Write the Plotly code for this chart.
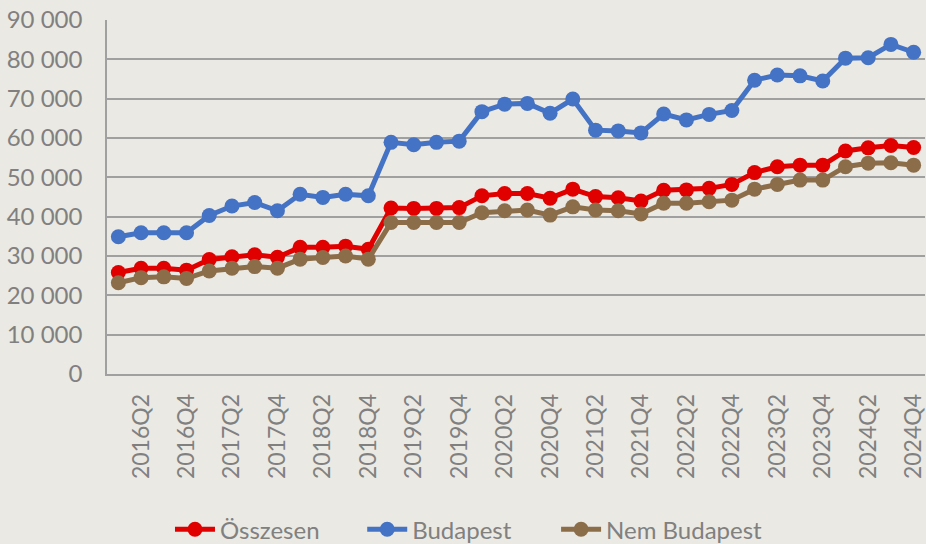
import plotly.graph_objects as go

quarters = [f"{y}Q{q}" for y in range(2016, 2025) for q in range(1, 5)]

osszesen = [25800, 26900, 26900, 26400, 29100, 29800, 30300, 29700, 32200, 32200, 32500, 31700,
            42200, 42100, 42100, 42300, 45300, 45900, 45900, 44700, 47000, 45100, 44800, 44000,
            46700, 46800, 47200, 48200, 51200, 52700, 53100, 53100, 56700, 57500, 58100, 57600]
budapest = [34900, 35900, 35900, 35900, 40300, 42700, 43600, 41500, 45700, 44900, 45700, 45300,
            58900, 58300, 58900, 59200, 66700, 68600, 68800, 66300, 69900, 62000, 61800, 61300,
            66100, 64600, 66000, 67000, 74700, 76000, 75800, 74500, 80300, 80400, 83800, 81800]
nem_budapest = [23200, 24500, 24700, 24300, 26200, 26900, 27300, 26900, 29200, 29600, 30000, 29200,
                38500, 38500, 38500, 38500, 41000, 41500, 41700, 40400, 42500, 41700, 41500, 40700,
                43400, 43400, 43800, 44200, 47000, 48200, 49300, 49300, 52700, 53600, 53700, 53100]

tick_labels = quarters[1::2]
y_ticks = list(range(0, 90001, 10000))
y_tick_text = ["0" if v == 0 else f"{v // 1000} 000" for v in y_ticks]

series = [
    ("Összesen", osszesen, "#e00000", "legend"),
    ("Budapest", budapest, "#4472c4", "legend2"),
    ("Nem Budapest", nem_budapest, "#8c6d4a", "legend3"),
]
legend_x = [0.077, 0.312, 0.549]

fig = go.Figure()
for name, vals, col, lg in series:
    fig.add_trace(go.Scatter(
        x=quarters, y=vals, name=name, mode="lines+markers",
        line=dict(color=col, width=5),
        marker=dict(color=col, size=15),
        legend=lg,
    ))

font_family = "Lato, 'Open Sans', sans-serif"
grey = "#808080"

def legend_cfg(xpos):
    return dict(orientation="h", x=xpos, xanchor="left", y=-0.376, yanchor="top",
                font=dict(size=24, color=grey), itemwidth=40,
                bgcolor="rgba(0,0,0,0)")

fig.update_layout(
    width=926, height=544,
    paper_bgcolor="#ebe9e3", plot_bgcolor="#ebe9e3",
    margin=dict(l=107, r=1, t=20, b=170, autoexpand=False),
    font=dict(family=font_family, color=grey, size=22),
    showlegend=True,
    legend=legend_cfg(legend_x[0]),
    legend2=legend_cfg(legend_x[1]),
    legend3=legend_cfg(legend_x[2]),
)
fig.update_xaxes(
    type="category", categoryorder="array", categoryarray=quarters,
    range=[-0.5, 35.5], automargin=False,
    tickmode="array", tickvals=tick_labels, ticktext=tick_labels,
    tickangle=-90, tickfont=dict(size=23, color=grey),
    showgrid=False, showline=True, linecolor="#a0a0a0", linewidth=1.5,
    ticks="", ticklabelstandoff=9, zeroline=False,
)
fig.update_yaxes(
    range=[0, 90000], tickmode="array", tickvals=y_ticks, ticktext=y_tick_text,
    tickfont=dict(size=24, color=grey), automargin=False,
    showgrid=True, gridcolor="#a0a0a0", gridwidth=1.5,
    showline=True, linecolor="#a0a0a0", linewidth=1.5,
    zeroline=False, ticks="", ticklabelstandoff=18,
)

fig.write_html("out.html", config={"displayModeBar": False},
               post_script="document.body.style.margin='0';document.body.style.overflow='hidden';")
